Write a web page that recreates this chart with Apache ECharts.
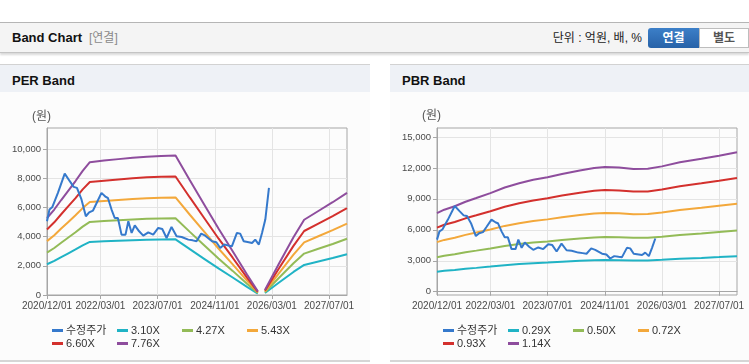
<!DOCTYPE html>
<html><head><meta charset="utf-8">
<script src="https://cdn.jsdelivr.net/npm/echarts@6/dist/echarts.min.js"></script>
<style>
body{margin:0;width:749px;height:364px;overflow:hidden;background:#fff;position:relative;font-family:"Liberation Sans","Noto Sans CJK KR",sans-serif;}
.abs{position:absolute;}
.topline{left:0;top:22px;width:749px;height:1px;background:#b5b5b5;}
.hbar{left:0;top:23px;width:749px;height:29px;background:#f4f4f4;border-bottom:1px solid #c4c4c4;box-shadow:0 2px 2px rgba(0,0,0,0.15);}
.htitle{left:12px;top:23px;line-height:30px;font-size:13px;font-weight:bold;color:#111;}
.hsub{left:89px;top:23px;line-height:30px;font-size:12px;color:#8a8a8a;}
.unit{right:107px;top:23px;line-height:31px;font-size:12px;color:#222;}
.btn1{left:648px;top:28px;width:51px;height:20px;line-height:20px;text-align:center;color:#fff;font-weight:bold;font-size:12px;background:linear-gradient(#3c7fc8,#2762a8);border-radius:3px 0 0 3px;}
.btn2{left:699px;top:28px;width:50px;height:20px;line-height:18px;box-sizing:border-box;text-align:center;color:#555;font-weight:bold;font-size:12px;background:#fff;border:1px solid #bdbdbd;}
.panel{top:64px;height:298px;background:#fcfcfc;border-top:1px solid #d2d2d2;border-bottom:2px solid #d6d6d6;box-sizing:border-box;}
.ph{position:absolute;left:0;top:0;right:0;height:27px;background:#eef1f6;}
.pt{position:absolute;left:12px;top:0;line-height:31px;font-size:13px;font-weight:bold;color:#111;}
#chart{left:0;top:0;width:749px;height:364px;}
</style></head>
<body>
<div class="abs topline"></div>
<div class="abs hbar"></div>
<div class="abs htitle">Band Chart</div>
<div class="abs hsub">[연결]</div>
<div class="abs unit">단위 : 억원, 배, %</div>
<div class="abs btn1">연결</div>
<div class="abs btn2">별도</div>
<div class="abs panel" style="left:0;width:370px;"><div class="ph"></div><div class="pt">PER Band</div></div>
<div class="abs panel" style="left:390px;width:359px;"><div class="ph"></div><div class="pt">PBR Band</div></div>
<div class="abs" id="chart"></div>
<script>
// ---- axis ticks ----
const xTickDates = ['2020-12-01','2022-03-01','2023-07-01','2024-11-01','2026-03-01','2027-07-01'];
const xStart = '2020-12-01', xEnd = '2027-12-01';
const perYTicks = [0,2000,4000,6000,8000,10000];
const pbrYTicks = [0,3000,6000,9000,12000,15000];

// ---- series names ----
const perNames = ['수정주가','3.10X','4.27X','5.43X','6.60X','7.76X'];
const pbrNames = ['수정주가','0.29X','0.50X','0.72X','0.93X','1.14X'];

// ---- price (수정주가) ----
const priceDates = ['2020-12-01','2020-12-22','2021-01-16','2021-03-04','2021-05-01','2021-06-13','2021-07-16','2021-08-13','2021-09-19','2021-10-28','2021-11-25','2021-12-28','2022-01-28','2022-03-10','2022-04-16','2022-05-04','2022-06-04','2022-07-01','2022-07-28','2022-08-28','2022-10-01','2022-10-25','2022-11-22','2022-12-19','2023-01-25','2023-03-01','2023-04-13','2023-05-25','2023-07-07','2023-08-10','2023-09-16','2023-10-28','2023-12-10','2024-01-22','2024-03-19','2024-04-25','2024-05-28','2024-07-07','2024-08-10','2024-10-07','2024-11-13','2024-12-16','2025-01-19','2025-02-25','2025-03-25','2025-05-07','2025-06-04','2025-07-04','2025-08-16','2025-09-13','2025-10-10','2025-11-10','2025-12-07','2026-01-04','2026-02-04'];
const priceValues = [5050,5850,6030,6990,8310,7790,7400,7330,6580,5390,5660,5780,6300,6990,6710,6640,5850,5270,5270,4130,4130,5050,4250,4770,4360,4060,4290,4130,4590,4520,3900,4660,4020,3970,3790,3740,3680,4200,4060,3680,3610,3220,3450,3380,3330,4250,4200,3680,3610,3560,3790,3450,4250,5160,7330];

// ---- PER bands ('-' = no EPS / gap) ----
const perBandDates = ['2020-12-01','2021-02-01','2021-04-01','2021-06-01','2021-08-01','2021-10-01','2021-12-01','2022-04-01','2022-08-01','2022-12-01','2023-04-01','2023-08-01','2023-12-01','2024-04-01','2024-08-01','2024-12-01','2025-04-01','2025-08-01','2025-11-01','2025-12-01','2026-01-01','2026-05-01','2026-09-01','2026-12-01','2027-04-01','2027-08-01','2027-12-01'];
const per310 = [2105,2337,2597,2856,3116,3396,3631,3675,3716,3755,3783,3800,3811,3136,2477,1818,1199,559,100,'-',140,859,1578,2057,2297,2537,2792];
const per427 = [2900,3219,3577,3935,4292,4678,5002,5063,5118,5173,5211,5234,5250,4320,3412,2504,1651,770,138,'-',193,1183,2174,2834,3164,3495,3847];
const per543 = [3687,4093,4548,5003,5458,5947,6360,6437,6507,6577,6626,6654,6675,5493,4338,3184,2099,980,175,'-',245,1504,2764,3603,4023,4443,4891];
const per660 = [4482,4975,5528,6081,6634,7229,7731,7825,7910,7995,8054,8088,8114,6677,5273,3870,2552,1191,213,'-',298,1829,3360,4380,4890,5401,5945];
const per776 = [5270,5850,6500,7150,7800,8500,9090,9200,9300,9400,9470,9510,9540,7850,6200,4550,3000,1400,250,'-',350,2150,3950,5150,5750,6350,6990];

// ---- PBR bands ----
const pbrBandDates = ['2020-12-01','2021-02-01','2021-05-01','2021-08-01','2021-11-01','2022-03-01','2022-07-01','2022-11-01','2023-03-01','2023-07-01','2023-11-01','2024-04-01','2024-08-01','2024-11-01','2025-03-01','2025-07-01','2025-11-01','2026-03-01','2026-08-01','2027-02-01','2027-07-01','2027-12-01'];
const pbr029 = [1936,2023,2106,2218,2310,2432,2569,2676,2760,2824,2905,2993,3050,3073,3060,3027,3033,3091,3190,3277,3355,3437];
const pbr050 = [3338,3487,3632,3825,3982,4193,4430,4614,4759,4869,5009,5158,5259,5298,5276,5219,5228,5329,5500,5649,5785,5926];
const pbr072 = [4806,5021,5230,5507,5735,6038,6379,6644,6853,7011,7213,7428,7573,7630,7598,7516,7529,7674,7920,8135,8331,8533];
const pbr093 = [6208,6486,6755,7113,7407,7799,8240,8582,8851,9055,9316,9594,9781,9855,9814,9708,9724,9912,10230,10507,10760,11022];
const pbr114 = [7610,7950,8280,8720,9080,9560,10100,10520,10850,11100,11420,11760,11990,12080,12030,11900,11920,12150,12540,12880,13190,13510];

const colors = ['#3579cc','#20b3c5','#93bb57','#f3a83b','#d3302d','#8e4d9d'];

const P = s => echarts.time.parse(s).getTime();
const zip = (d, v) => d.map((x, i) => [P(x), v[i]]);

const axisFont = '"Liberation Sans",Arial,sans-serif';
const legFont = '"Liberation Sans","Noto Sans CJK KR",sans-serif';
const fmtDate = v => { const d = new Date(v); return d.getFullYear() + '/' + String(d.getMonth()+1).padStart(2,'0') + '/' + String(d.getDate()).padStart(2,'0'); };

// main x axis (line, ticks, grid lines, even-position labels)
function xAxisMain(g) {
  const ticks = xTickDates.map(P);
  const lab = ticks.filter((t, i) => i % 2 === 0);
  return {
    type: 'value', gridIndex: g, min: P(xStart), max: P(xEnd), scale: true, position: 'bottom',
    axisLine: {show: true, lineStyle: {color: '#a6a6a6'}},
    axisTick: {show: true, customValues: ticks, length: 4, lineStyle: {color: '#a6a6a6'}},
    axisLabel: {customValues: lab, color: '#4a4a4a', fontSize: 10, fontFamily: axisFont, margin: 6, formatter: fmtDate,
      showMinLabel: true, showMaxLabel: true, hideOverlap: false},
    splitLine: {show: true, lineStyle: {color: '#e4e4e4'}}
  };
}
// companion x axis carrying the odd-position labels only
function xAxisAlt(g) {
  const ticks = xTickDates.map(P);
  const lab = ticks.filter((t, i) => i % 2 === 1);
  return {
    type: 'value', gridIndex: g, min: P(xStart), max: P(xEnd), scale: true, position: 'bottom', offset: 0,
    axisLine: {show: false}, axisTick: {show: false}, splitLine: {show: false},
    axisLabel: {customValues: lab, color: '#4a4a4a', fontSize: 10, fontFamily: axisFont, margin: 6, formatter: fmtDate,
      showMinLabel: true, showMaxLabel: true, hideOverlap: false}
  };
}
function yAxis(g, min, max, ticks) {
  return {
    type: 'value', gridIndex: g, min: min, max: max,
    axisLine: {show: true, lineStyle: {color: '#a6a6a6'}},
    axisTick: {show: true, customValues: ticks, length: 4, lineStyle: {color: '#a6a6a6'}},
    axisLabel: {customValues: ticks, color: '#4a4a4a', fontSize: 9.5, fontFamily: axisFont, margin: 6, showMinLabel: true, hideOverlap: false},
    splitLine: {show: true, lineStyle: {color: '#e4e4e4'}}
  };
}

const series = [];
const perBands = [per310, per427, per543, per660, per776];
const pbrBands = [pbr029, pbr050, pbr072, pbr093, pbr114];
perBands.forEach((v, i) => series.push({name: perNames[i+1], type: 'line', xAxisIndex: 0, yAxisIndex: 0, data: zip(perBandDates, v), symbol: 'none', lineStyle: {width: 2, color: colors[i+1]}, itemStyle: {color: colors[i+1]}, z: 2}));
series.push({name: perNames[0], type: 'line', xAxisIndex: 0, yAxisIndex: 0, data: zip(priceDates, priceValues), symbol: 'none', lineStyle: {width: 2, color: colors[0]}, itemStyle: {color: colors[0]}, z: 3});
pbrBands.forEach((v, i) => series.push({name: pbrNames[i+1], type: 'line', xAxisIndex: 1, yAxisIndex: 1, data: zip(pbrBandDates, v), symbol: 'none', lineStyle: {width: 2, color: colors[i+1]}, itemStyle: {color: colors[i+1]}, z: 2}));
series.push({name: pbrNames[0] + ' ', type: 'line', xAxisIndex: 1, yAxisIndex: 1, data: zip(priceDates.slice(0, -1), priceValues.slice(0, -1)), symbol: 'none', lineStyle: {width: 2, color: colors[0]}, itemStyle: {color: colors[0]}, z: 3});

const legends = [];
const colX = [52, 117, 182, 247];
const rowY = [325, 338];
[[perNames, 0], [pbrNames, 391]].forEach(([names, off], c) => {
  names.forEach((n, i) => {
    legends.push({
      data: [c === 1 && i === 0 ? n + ' ' : n],
      left: colX[i % 4] + off, top: rowY[Math.floor(i / 4)],
      icon: 'rect', itemWidth: 11, itemHeight: 3, selectedMode: false, padding: 0,
      formatter: () => n,
      textStyle: {fontSize: 11, color: '#333', fontFamily: legFont, padding: [0, 0, 0, -2]}
    });
  });
});

const chart = echarts.init(document.getElementById('chart'), null, {renderer: 'canvas'});
chart.setOption({
  animation: false,
  grid: [
    {left: 47, right: 402, top: 128, bottom: 69, show: true, borderColor: '#a6a6a6', borderWidth: 1, backgroundColor: 'transparent'},
    {left: 437, right: 12, top: 128, bottom: 69, show: true, borderColor: '#a6a6a6', borderWidth: 1, backgroundColor: 'transparent'}
  ],
  xAxis: [xAxisMain(0), xAxisMain(1), xAxisAlt(0), xAxisAlt(1)],
  yAxis: [yAxis(0, 0, 11430, perYTicks), yAxis(1, -320, 15870, pbrYTicks)],
  legend: legends,
  graphic: [
    {type: 'text', left: 32, top: 111, style: {text: '(원)', fontSize: 12, fill: '#555', fontFamily: legFont}},
    {type: 'text', left: 422, top: 110, style: {text: '(원)', fontSize: 12, fill: '#555', fontFamily: legFont}}
  ],
  series: series
});
</script>
</body></html>
